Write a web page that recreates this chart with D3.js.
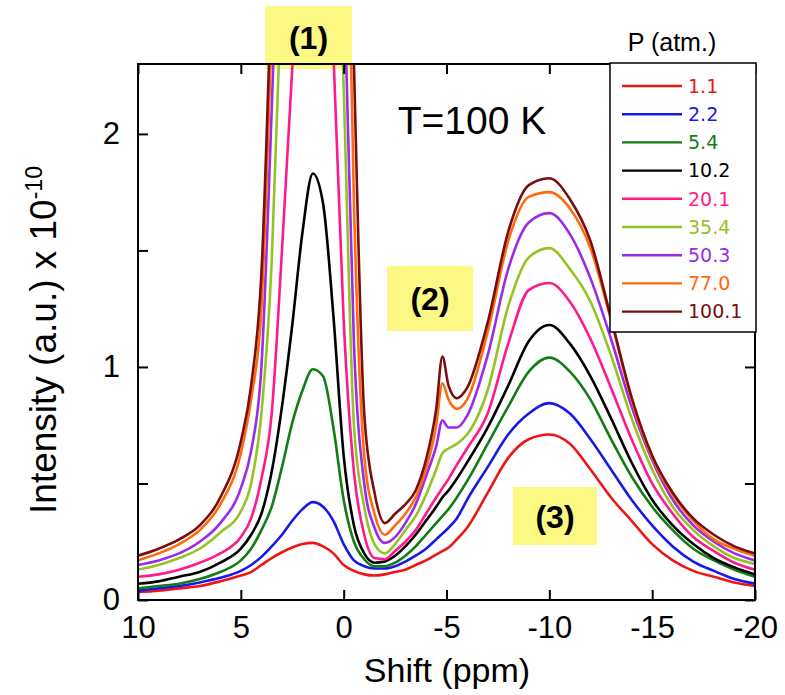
<!DOCTYPE html>
<html>
<head>
<meta charset="utf-8">
<script src="https://cdn.jsdelivr.net/npm/d3@7"></script>
<style>
  body { margin: 0; background: #fff; }
  svg { display: block; }
  text { font-family: "Liberation Sans", Arial, Helvetica, sans-serif; }
</style>
</head>
<body>
<svg id="chart" width="785" height="695"></svg>
<script>
// chemical shift grid (ppm), shared by all spectra
var shift = [10, 9, 8, 7, 6, 5, 4.5, 4, 3.5, 3, 2.5, 2, 1.5, 1, 0.5, 0, -0.5, -1, -1.5, -2, -2.5, -3, -3.5, -4, -4.5, -4.8, -5.1, -5.5, -6, -7, -8, -9, -10, -11, -12, -13, -14, -15, -16, -17, -18, -19, -20];

// pressures (atm.) and colours, same order as the legend
var pressures = ["1.1", "2.2", "5.4", "10.2", "20.1", "35.4", "50.3", "77.0", "100.1"];
var colors = ["#ee1515", "#1818e8", "#127d12", "#000000", "#ff1a8c", "#95c224", "#9a2be8", "#ff6a0d", "#7a0d0d"];

// intensity (a.u. x 1e-10), one array per pressure
var p1_1 = [0.034, 0.04, 0.05, 0.06, 0.08, 0.105, 0.12, 0.15, 0.18, 0.205, 0.225, 0.24, 0.245, 0.23, 0.20, 0.15, 0.125, 0.11, 0.105, 0.11, 0.12, 0.13, 0.15, 0.17, 0.195, 0.21, 0.225, 0.26, 0.31, 0.46, 0.61, 0.69, 0.71, 0.67, 0.56, 0.44, 0.34, 0.24, 0.17, 0.125, 0.10, 0.075, 0.06];
var p2_2 = [0.04, 0.05, 0.06, 0.075, 0.095, 0.125, 0.15, 0.185, 0.23, 0.28, 0.34, 0.39, 0.42, 0.40, 0.34, 0.24, 0.17, 0.145, 0.135, 0.135, 0.145, 0.165, 0.19, 0.22, 0.26, 0.285, 0.31, 0.35, 0.43, 0.57, 0.71, 0.80, 0.845, 0.80, 0.69, 0.56, 0.43, 0.32, 0.23, 0.165, 0.125, 0.09, 0.07];
var p5_4 = [0.05, 0.06, 0.07, 0.09, 0.12, 0.17, 0.22, 0.30, 0.40, 0.57, 0.76, 0.90, 0.99, 0.96, 0.74, 0.43, 0.25, 0.175, 0.145, 0.145, 0.16, 0.19, 0.23, 0.28, 0.33, 0.36, 0.39, 0.44, 0.51, 0.67, 0.83, 0.98, 1.04, 0.98, 0.86, 0.69, 0.53, 0.40, 0.30, 0.22, 0.17, 0.13, 0.10];
var p10_2 = [0.07, 0.08, 0.10, 0.12, 0.16, 0.22, 0.28, 0.37, 0.55, 0.83, 1.18, 1.58, 1.83, 1.70, 1.22, 0.62, 0.32, 0.20, 0.16, 0.165, 0.19, 0.23, 0.28, 0.34, 0.40, 0.44, 0.47, 0.52, 0.59, 0.74, 0.92, 1.11, 1.18, 1.10, 0.96, 0.78, 0.59, 0.43, 0.32, 0.24, 0.18, 0.14, 0.11];
var p20_1 = [0.10, 0.11, 0.13, 0.16, 0.20, 0.27, 0.35, 0.52, 0.80, 1.50, 2.28, 3.0, 3.3, 3.1, 2.35, 1.20, 0.55, 0.28, 0.18, 0.175, 0.21, 0.25, 0.30, 0.37, 0.44, 0.48, 0.52, 0.58, 0.65, 0.80, 1.10, 1.33, 1.36, 1.28, 1.12, 0.91, 0.69, 0.50, 0.37, 0.27, 0.21, 0.16, 0.13];
var p35_4 = [0.13, 0.15, 0.18, 0.22, 0.29, 0.38, 0.50, 0.80, 1.45, 2.7, 3.7, 4.3, 4.5, 4.3, 3.6, 2.2, 0.75, 0.40, 0.24, 0.20, 0.24, 0.30, 0.36, 0.45, 0.56, 0.63, 0.65, 0.67, 0.71, 0.90, 1.26, 1.47, 1.51, 1.42, 1.28, 1.05, 0.78, 0.56, 0.40, 0.30, 0.23, 0.18, 0.155];
var p50_3 = [0.15, 0.17, 0.20, 0.25, 0.33, 0.48, 0.64, 1.0, 2.1, 3.4, 4.3, 4.8, 5.0, 4.9, 4.2, 2.75, 1.1, 0.50, 0.31, 0.245, 0.27, 0.33, 0.41, 0.53, 0.66, 0.77, 0.74, 0.74, 0.79, 1.05, 1.42, 1.62, 1.66, 1.57, 1.38, 1.12, 0.83, 0.60, 0.43, 0.32, 0.25, 0.20, 0.17];
var p77_0 = [0.17, 0.20, 0.24, 0.30, 0.41, 0.63, 0.86, 1.25, 2.45, 3.7, 4.6, 5.1, 5.3, 5.3, 4.9, 3.9, 1.7, 0.62, 0.37, 0.28, 0.32, 0.37, 0.44, 0.56, 0.75, 0.93, 0.86, 0.82, 0.86, 1.15, 1.54, 1.73, 1.75, 1.68, 1.51, 1.20, 0.86, 0.61, 0.45, 0.34, 0.26, 0.22, 0.19];
var p100_1 = [0.19, 0.22, 0.26, 0.32, 0.44, 0.68, 0.92, 1.40, 2.65, 3.9, 4.8, 5.4, 5.6, 5.6, 5.2, 4.3, 2.3, 0.80, 0.46, 0.33, 0.37, 0.41, 0.47, 0.60, 0.82, 1.045, 0.92, 0.866, 0.91, 1.19, 1.58, 1.78, 1.81, 1.72, 1.54, 1.21, 0.87, 0.62, 0.46, 0.35, 0.28, 0.23, 0.20];

var spectra = [p1_1, p2_2, p5_4, p10_2, p20_1, p35_4, p50_3, p77_0, p100_1];

var xTicks = [10, 5, 0, -5, -10, -15, -20];
var yTicks = [0, 0.5, 1, 1.5, 2];

var svg = d3.select("#chart");

var margin = {left: 138, right: 30, top: 64, bottom: 95};
var width = 785 - margin.left - margin.right,
	height = 695 - margin.top - margin.bottom;

var x = d3.scaleLinear().domain([10, -20]).range([margin.left, margin.left + width]);
var y = d3.scaleLinear().domain([0, 2.3]).range([margin.top + height, margin.top]);

svg.append("defs").append("clipPath")
	.attr("id", "plotClip")
	.append("rect")
	.attr("x", margin.left)
	.attr("y", margin.top)
	.attr("width", width)
	.attr("height", height);

// yellow label boxes sit behind the curves
var boxes = [
	{label: "(1)", x0: 265, y0: 6, w: 87, h: 63},
	{label: "(2)", x0: 387, y0: 266, w: 86, h: 65},
	{label: "(3)", x0: 513, y0: 487, w: 84, h: 58}
];
svg.append("g").selectAll("rect")
	.data(boxes)
	.enter().append("rect")
	.attr("x", function(d){ return d.x0; })
	.attr("y", function(d){ return d.y0; })
	.attr("width", function(d){ return d.w; })
	.attr("height", function(d){ return d.h; })
	.style("fill", "#fbf883");

// spectra
var line = d3.line()
	.x(function(d, i){ return x(shift[i]); })
	.y(function(d){ return y(d); })
	.curve(d3.curveMonotoneX);

svg.append("g")
	.attr("clip-path", "url(#plotClip)")
	.selectAll("path")
	.data(spectra)
	.enter().append("path")
	.attr("d", line)
	.style("fill", "none")
	.style("stroke", function(d, i){ return colors[i]; })
	.style("stroke-width", 2.6)
	.style("stroke-linejoin", "round");

// axes, ticks pointing inward on all four sides
var xAxis = svg.append("g")
	.attr("transform", "translate(0," + (margin.top + height) + ")")
	.call(d3.axisBottom(x).tickValues(xTicks).tickSizeInner(-10).tickSizeOuter(0).tickPadding(16).tickFormat(d3.format("d")));
var xTop = svg.append("g")
	.attr("transform", "translate(0," + margin.top + ")")
	.call(d3.axisTop(x).tickValues(xTicks).tickSizeInner(-10).tickSizeOuter(0).tickFormat(""));
var yAxis = svg.append("g")
	.attr("transform", "translate(" + margin.left + ",0)")
	.call(d3.axisLeft(y).tickValues(yTicks).tickSizeInner(-10).tickSizeOuter(0).tickPadding(18)
		.tickFormat(function(d){ return d % 1 === 0 ? d : ""; }));
var yRight = svg.append("g")
	.attr("transform", "translate(" + (margin.left + width) + ",0)")
	.call(d3.axisRight(y).tickValues(yTicks).tickSizeInner(-10).tickSizeOuter(0).tickFormat(""));

svg.selectAll(".domain").remove();
svg.selectAll(".tick line").style("stroke", "#000").style("stroke-width", 2);
svg.selectAll(".tick text")
	.style("font-family", "'Liberation Sans', Arial, sans-serif")
	.style("font-size", "31px")
	.style("fill", "#000");
// minus sign as a plain hyphen like the original
xAxis.selectAll(".tick text").text(function(d){ return d < 0 ? "-" + Math.abs(d) : d; });

svg.append("rect")
	.attr("x", margin.left)
	.attr("y", margin.top)
	.attr("width", width)
	.attr("height", height)
	.style("fill", "none")
	.style("stroke", "#000")
	.style("stroke-width", 2);

// axis titles
svg.append("text")
	.attr("x", 447)
	.attr("y", 682)
	.attr("text-anchor", "middle")
	.style("font-size", "34px")
	.text("Shift (ppm)");

var yTitle = svg.append("text")
	.attr("transform", "translate(56," + 340 + ") rotate(-90)")
	.attr("text-anchor", "middle")
	.style("font-size", "37px");
yTitle.append("tspan").text("Intensity (a.u.) x 10");
yTitle.append("tspan").attr("dy", -14).style("font-size", "23px").text("-10");

svg.append("text")
	.attr("x", 472)
	.attr("y", 134)
	.attr("text-anchor", "middle")
	.style("font-size", "39px")
	.text("T=100 K");

// legend
var legend = svg.append("g");
legend.append("rect")
	.attr("x", 610)
	.attr("y", 63)
	.attr("width", 146)
	.attr("height", 269)
	.style("fill", "#fff")
	.style("stroke", "#000")
	.style("stroke-width", 1.5);
legend.append("text")
	.attr("x", 672)
	.attr("y", 51)
	.attr("text-anchor", "middle")
	.style("font-size", "25px")
	.text("P (atm.)");

var entry = legend.selectAll(".entry")
	.data(pressures)
	.enter().append("g")
	.attr("class", "entry")
	.attr("transform", function(d, i){ return "translate(0," + (86 + i * 28.2) + ")"; });
entry.append("line")
	.attr("x1", 622)
	.attr("x2", 682)
	.style("stroke", function(d, i){ return colors[i]; })
	.style("stroke-width", 2.4);
entry.append("text")
	.attr("x", 688)
	.attr("dy", "0.36em")
	.style("font-family", "'DejaVu Sans', Verdana, sans-serif")
	.style("font-size", "19px")
	.style("fill", function(d, i){ return colors[i]; })
	.text(function(d){ return d; });

// box labels on top
svg.append("g").selectAll("text")
	.data(boxes)
	.enter().append("text")
	.attr("x", function(d){ return d.x0 + d.w / 2; })
	.attr("y", function(d){ return d.y0 + d.h / 2; })
	.attr("dy", "0.36em")
	.attr("text-anchor", "middle")
	.style("font-size", "32px")
	.style("font-weight", "bold")
	.text(function(d){ return d.label; });
</script>
</body>
</html>
